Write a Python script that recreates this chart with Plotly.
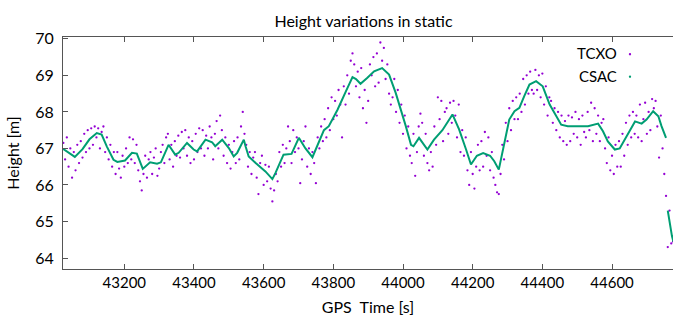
import plotly.graph_objects as go

# ---------------- data ----------------
# CSAC (smooth line of dots) – vertices along the curve
CSAC_T = [43024, 43040, 43058, 43080, 43100, 43121, 43135, 43150, 43169, 43180,
          43202, 43222, 43236, 43253, 43274, 43294, 43305, 43327, 43346, 43356,
          43380, 43399, 43409, 43433, 43452, 43461, 43481, 43500, 43514, 43524,
          43543, 43548, 43557, 43577, 43605, 43625, 43634, 43657, 43680, 43701,
          43720, 43740, 43773, 43787, 43812, 43836, 43855, 43865, 43878, 43897,
          43917, 43940, 43960, 43979, 43994, 44008, 44023, 44030, 44046, 44070,
          44089, 44113, 44142, 44161, 44181, 44195, 44212, 44230, 44250, 44262,
          44275, 44290, 44305, 44320, 44334, 44348, 44363, 44382, 44401, 44421,
          44440, 44454, 44473, 44502, 44531, 44560, 44574, 44588, 44608, 44622,
          44637, 44666, 44685, 44699, 44718, 44733, 44742, 44755, 44757, 44760,
          44766, 44772, 44776]
CSAC_H = [66.99, 66.88, 66.77, 66.98, 67.25, 67.42, 67.38, 67.05, 66.69, 66.63,
          66.67, 66.88, 66.86, 66.44, 66.62, 66.58, 66.62, 67.10, 66.83, 66.88,
          67.15, 66.97, 66.92, 67.24, 67.17, 67.06, 67.24, 67.01, 66.78, 66.88,
          67.24, 67.06, 66.78, 66.60, 66.37, 66.16, 66.33, 66.83, 66.85, 67.29,
          67.00, 66.76, 67.50, 67.61, 68.06, 68.56, 68.95, 68.90, 68.77, 68.93,
          69.11, 69.20, 69.02, 68.52, 68.06, 67.61, 67.10, 67.06, 67.29, 66.97,
          67.24, 67.50, 67.93, 67.52, 66.97, 66.56, 66.80, 66.87, 66.80, 66.65,
          66.42, 67.15, 67.79, 68.02, 68.11, 68.43, 68.75, 68.84, 68.70, 68.20,
          67.88, 67.65, 67.61, 67.62, 67.61, 67.68, 67.47, 67.19, 66.97, 67.00,
          67.24, 67.74, 67.68, 67.79, 68.02, 67.88, 67.61, 67.29, None, 65.30,
          64.90, 64.60, 64.45]

# TCXO (scattered dots)
TCXO_T = [
    43025, 43030, 43035, 43040, 43045, 43050, 43055, 43060, 43065, 43070,
    43075, 43080, 43085, 43090, 43095, 43100, 43105, 43110, 43115, 43120,
    43125, 43130, 43135, 43140, 43145, 43150, 43155, 43160, 43165, 43170,
    43175, 43180, 43185, 43190, 43195, 43200, 43205, 43210, 43215, 43220,
    43225, 43230, 43235, 43240, 43245, 43250, 43255, 43260, 43265, 43270,
    43275, 43280, 43285, 43290, 43295, 43300, 43305, 43310, 43315, 43320,
    43325, 43330, 43335, 43340, 43345, 43350, 43355, 43360, 43365, 43370,
    43375, 43380, 43385, 43390, 43395, 43400, 43405, 43410, 43415, 43420,
    43425, 43430, 43435, 43440, 43445, 43450, 43455, 43460, 43465, 43470,
    43475, 43480, 43485, 43490, 43495, 43500, 43505, 43510, 43515, 43520,
    43525, 43530, 43535, 43540, 43545, 43550, 43555, 43560, 43565, 43570,
    43575, 43580, 43585, 43590, 43595, 43600, 43605, 43610, 43615, 43620,
    43625, 43630, 43635, 43640, 43645, 43650, 43655, 43660, 43665, 43670,
    43675, 43680, 43685, 43690, 43695, 43700, 43705, 43710, 43715, 43720,
    43725, 43730, 43735, 43740, 43745, 43750, 43755, 43760, 43765, 43770,
    43775, 43780, 43785, 43790, 43795, 43800, 43805, 43810, 43815, 43820,
    43825, 43830, 43835, 43840, 43845, 43850, 43855, 43860, 43865, 43870,
    43875, 43880, 43885, 43890, 43895, 43900, 43905, 43910, 43915, 43920,
    43925, 43930, 43935, 43940, 43945, 43950, 43955, 43960, 43965, 43970,
    43975, 43980, 43985, 43990, 43995, 44000, 44005, 44010, 44015, 44020,
    44025, 44030, 44035, 44040, 44045, 44050, 44055, 44060, 44065, 44070,
    44075, 44080, 44085, 44090, 44095, 44100, 44105, 44110, 44115, 44120,
    44125, 44130, 44135, 44140, 44145, 44150, 44155, 44160, 44165, 44170,
    44175, 44180, 44185, 44190, 44195, 44200, 44205, 44210, 44215, 44220,
    44225, 44230, 44235, 44240, 44245, 44250, 44255, 44260, 44265, 44270,
    44275, 44280, 44285, 44290, 44295, 44300, 44305, 44310, 44315, 44320,
    44325, 44330, 44335, 44340, 44345, 44350, 44355, 44360, 44365, 44370,
    44375, 44380, 44385, 44390, 44395, 44400, 44405, 44410, 44415, 44420,
    44425, 44430, 44435, 44440, 44445, 44450, 44455, 44460, 44465, 44470,
    44475, 44480, 44485, 44490, 44495, 44500, 44505, 44510, 44515, 44520,
    44525, 44530, 44535, 44540, 44545, 44550, 44555, 44560, 44565, 44570,
    44575, 44580, 44585, 44590, 44595, 44600, 44605, 44610, 44615, 44620,
    44625, 44630, 44635, 44640, 44645, 44650, 44655, 44660, 44665, 44670,
    44675, 44680, 44685, 44690, 44695, 44700, 44705, 44710, 44715, 44720,
    44725, 44730, 44735, 44740, 44745, 44750, 44755, 44760, 44765, 44770,
    44775]
TCXO_H = [
    67.15, 66.70, 67.30, 66.50, 67.00, 66.20, 66.90, 66.40, 67.10, 66.60,
    67.20, 66.75, 67.40, 66.90, 67.50, 67.00, 67.55, 67.10, 67.60, 67.30,
    67.55, 67.00, 67.45, 67.60, 66.90, 67.30, 66.70, 67.10, 66.50, 66.90,
    66.30, 66.90, 66.45, 66.20, 66.80, 66.50, 67.00, 66.60, 67.30, 66.70,
    67.25, 66.60, 67.10, 66.40, 66.10, 65.85, 66.30, 66.80, 66.20, 66.70,
    66.90, 66.30, 66.75, 67.00, 66.25, 66.45, 66.90, 67.10, 66.60, 67.30,
    67.40, 66.70, 67.10, 66.50, 67.20, 66.80, 67.35, 66.75, 67.45, 67.00,
    67.50, 66.80, 67.30, 66.60, 67.20, 66.70, 67.40, 66.90, 67.55, 67.00,
    67.50, 66.80, 67.35, 67.00, 67.60, 67.30, 66.70, 67.40, 67.75, 67.00,
    67.90, 67.50, 66.80, 67.30, 66.60, 67.10, 66.45, 66.90, 67.20, 66.60,
    67.30, 66.70, 67.60, 68.00, 67.40, 67.10, 66.50, 66.90, 66.30, 66.75,
    66.90, 66.20, 65.75, 66.60, 66.80, 66.00, 66.55, 66.10, 66.50, 65.90,
    65.55, 65.85, 66.30, 66.10, 66.90, 66.50, 67.10, 66.60, 67.00, 67.60,
    67.20, 66.60, 67.50, 66.90, 67.30, 67.00, 66.05, 66.70, 67.20, 67.60,
    66.50, 67.00, 66.30, 66.90, 66.60, 66.05, 67.30, 67.00, 67.60, 67.20,
    67.80, 67.30, 68.10, 67.50, 68.40, 67.80, 68.30, 67.90, 68.60, 68.20,
    67.30, 68.70, 68.20, 69.00, 68.50, 69.40, 69.60, 69.30, 68.70, 69.10,
    68.40, 69.20, 68.10, 68.60, 67.70, 68.30, 69.30, 69.00, 69.50, 68.70,
    69.60, 68.80, 69.90, 69.40, 69.75, 68.90, 69.30, 68.50, 68.20, 68.40,
    68.90, 68.00, 68.60, 67.70, 68.20, 67.40, 67.90, 67.00, 67.60, 66.80,
    66.60, 67.40, 66.25, 66.90, 67.60, 67.95, 67.70, 66.80, 67.40, 66.60,
    66.40, 66.90, 66.50, 67.60, 67.10, 68.40, 67.80, 68.30, 67.20, 68.00,
    68.10, 67.40, 68.25, 67.70, 68.30, 67.90, 67.30, 68.20, 66.90, 67.50,
    66.80, 67.30, 66.40, 66.00, 66.90, 66.30, 65.90, 66.50, 67.10, 66.40,
    67.20, 66.50, 67.45, 66.80, 67.30, 66.40, 66.90, 66.20, 66.00, 65.80,
    65.75, 66.30, 67.10, 66.70, 67.70, 67.20, 68.10, 67.50, 68.30, 67.80,
    68.40, 67.80, 68.50, 68.00, 68.90, 68.20, 69.00, 68.50, 69.10, 68.60,
    68.50, 69.15, 68.60, 69.00, 68.40, 69.05, 68.20, 68.70, 67.90, 68.40,
    68.30, 67.70, 68.10, 67.50, 68.00, 67.30, 67.90, 67.20, 67.75, 67.10,
    67.90, 67.20, 67.85, 67.40, 68.00, 67.30, 67.80, 67.10, 67.90, 67.45,
    67.30, 68.00, 67.50, 68.25, 67.20, 68.10, 67.40, 67.90, 67.20, 67.70,
    67.80, 67.00, 66.60, 67.30, 66.40, 66.80, 66.30, 67.10, 66.50, 67.20,
    66.50, 67.40, 66.80, 67.70, 67.10, 67.90, 67.30, 68.00, 67.40, 67.90,
    67.30, 68.20, 67.20, 67.80, 68.25, 67.40, 68.00, 67.50, 68.35, 68.10,
    68.30, 67.60, 66.75, 67.90, 67.00, 66.30, 65.70, 64.30, 65.30, 64.40,
    64.45]

SERIES_NAMES = ["TCXO", "CSAC"]
COLORS = ["#9400d3", "#009e73"]
X_TICKS = [43200, 43400, 43600, 43800, 44000, 44200, 44400, 44600]
Y_TICKS = [64, 65, 66, 67, 68, 69, 70]

FONT = "Lato, 'Open Sans', sans-serif"
AXIS_COLOR = "#555555"

fig = go.Figure()

fig.add_trace(go.Scatter(
    x=TCXO_T, y=TCXO_H, mode="markers", name=" ",
    marker=dict(color=COLORS[0], size=2.3, line=dict(width=0)),
))
fig.add_trace(go.Scatter(
    x=CSAC_T, y=CSAC_H, mode="lines", name=SERIES_NAMES[1], showlegend=False,
    line=dict(color=COLORS[1], width=2.0), connectgaps=False,
))
# legend sample for CSAC (a dot, as in the original key)
fig.add_trace(go.Scatter(
    x=[None], y=[None], mode="markers", name=" ",
    marker=dict(color=COLORS[1], size=2.3),
))

# gnuplot-style key: right-aligned text, sample to its right
for name, ypos in zip(SERIES_NAMES, [0.933, 0.832]):
    fig.add_annotation(text=name, xref="paper", yref="paper", x=0.912, y=ypos,
                       xanchor="right", yanchor="middle", showarrow=False,
                       font=dict(size=15, family=FONT, color="black"))

fig.update_layout(
    width=673, height=320,
    margin=dict(l=63, r=0, t=37, b=51),
    paper_bgcolor="white", plot_bgcolor="white",
    font=dict(family=FONT, size=15, color="black"),
    title=dict(text="Height variations in static", x=363.5 / 673, xanchor="center",
               y=1 - 21 / 320, yanchor="middle", font=dict(size=16, family=FONT)),
    legend=dict(x=0.8967, xanchor="left", y=0.9957, yanchor="top",
                bgcolor="rgba(0,0,0,0)", font=dict(size=15, family=FONT),
                tracegroupgap=0),
    showlegend=True,
)

fig.update_xaxes(
    range=[43024, 44775], tickvals=X_TICKS, ticktext=[str(v) for v in X_TICKS],
    ticks="inside", ticklen=5,
    tickcolor=AXIS_COLOR, showline=True, linecolor=AXIS_COLOR, linewidth=1,
    mirror="ticks", showgrid=False, zeroline=False,
    tickfont=dict(size=15, family=FONT), ticklabelstandoff=0,
    title=dict(text="GPS\u00a0 Time [s]", font=dict(size=16, family=FONT), standoff=11),
)
fig.update_yaxes(
    range=[63.7, 70.05], tickvals=Y_TICKS, ticks="inside", ticklen=5,
    tickcolor=AXIS_COLOR, showline=True, linecolor=AXIS_COLOR, linewidth=1,
    mirror=False, showgrid=False, zeroline=False,
    tickfont=dict(size=16, family=FONT), ticklabelstandoff=5,
    title=dict(text="Height [m]", font=dict(size=16, family=FONT), standoff=11),
)

# remove the default 8px page margin so the 673x320 figure fills the window
fig.write_html(
    "out.html",
    config={"displayModeBar": False},
    post_script="document.body.style.margin='0px';document.body.style.overflow='hidden';",
)
